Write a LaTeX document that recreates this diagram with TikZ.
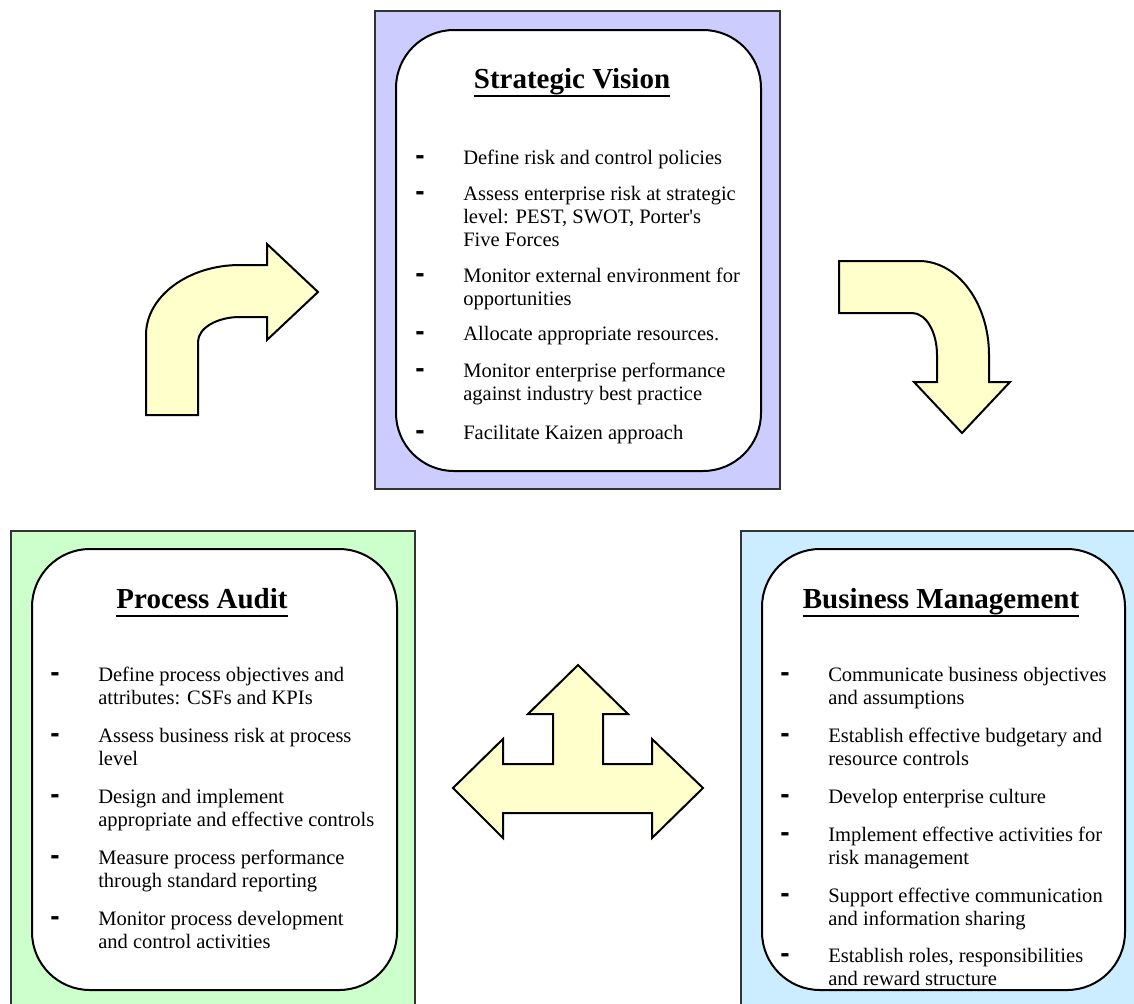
\documentclass[tikz,border=0pt]{standalone}
\usepackage{fontspec}
\setmainfont{Liberation Serif}[Ligatures=TeXOff]
\newfontfamily\svdashfamily{Liberation Sans}
\usetikzlibrary{calc}

\definecolor{visionfill}{RGB}{204,204,255}
\definecolor{auditfill}{RGB}{204,255,204}
\definecolor{mgmtfill}{RGB}{204,236,255}
\definecolor{arrowfill}{RGB}{255,255,204}

\newcommand\svbodyfont{\fontsize{15.4pt}{17.25pt}\selectfont}
\newcommand\svheadfont{\fontsize{21.75pt}{26pt}\selectfont\bfseries}
\newcommand\svdashfont{\svdashfamily\bfseries\fontsize{21pt}{21pt}\selectfont}

\tikzset{
  outerbox/.style={draw=black!80, line width=1.1pt},
  innerbox/.style={draw=black, fill=white, line width=1.5pt, rounded corners=43.5pt},
  blockarrow/.style={draw=black, fill=arrowfill, line width=1.5pt, line join=miter},
  heading/.style={font=\svheadfont, anchor=base, inner sep=0pt},
  itemtext/.style={font=\svbodyfont, anchor=north west, align=left, inner sep=0pt},
  dashmark/.style={font=\svdashfont, anchor=base west, inner sep=0pt},
  uline/.style={line width=2.2pt}
}

% one list entry: dash marker plus its text, first baseline at #3
\newcommand\bullitem[4]{%
  \node[dashmark] (#1-dash) at ({#2-48},#3) {-};
  \node[itemtext] (#1) at (#2,{#3-16.1}) {\strut #4};}

% title with a heavy underline
\newcommand\boxtitle[3]{%
  \node[heading] (#1) at (#2) {#3};
  \draw[uline] ($(#1.base west)+(0,8)$) -- ($(#1.base east)+(0,8)$);}

\begin{document}
\begin{tikzpicture}[x=0.75pt, y=-0.75pt]
\useasboundingbox (0,0) rectangle (1134,1003);

% ---------- Strategic Vision ----------
\draw[outerbox, fill=visionfill] (375,11) rectangle (780,489);
\draw[innerbox] (396,30) rectangle (761,471);
\boxtitle{svT}{572,88}{Strategic Vision}
\bullitem{sv1}{463}{164}{Define risk and control policies}
\bullitem{sv2}{463}{200}{Assess enterprise risk at strategic\\level: PEST, SWOT, Porter's\\Five Forces}
\bullitem{sv3}{463}{282}{Monitor external environment for\\opportunities}
\bullitem{sv4}{463}{340}{Allocate appropriate resources.}
\bullitem{sv5}{463}{377}{Monitor enterprise performance\\against industry best practice}
\bullitem{sv6}{463}{439}{Facilitate Kaizen approach}

% ---------- Process Audit ----------
\draw[outerbox, fill=auditfill] (11,531) rectangle (415,1012);
\draw[innerbox] (32,549) rectangle (397,990);
\boxtitle{paT}{202,608}{Process Audit}
\bullitem{pa1}{98}{681}{Define process objectives and\\attributes: CSFs and KPIs}
\bullitem{pa2}{98}{742}{Assess business risk at process\\level}
\bullitem{pa3}{98}{803}{Design and implement\\appropriate and effective controls}
\bullitem{pa4}{98}{864}{Measure process performance\\through standard reporting}
\bullitem{pa5}{98}{925}{Monitor process development\\and control activities}

% ---------- Business Management ----------
\draw[outerbox, fill=mgmtfill] (741,531) rectangle (1146,1012);
\draw[innerbox] (762,549) rectangle (1125,990);
\boxtitle{bmT}{941,608}{Business Management}
\bullitem{bm1}{828}{681}{Communicate business objectives\\and assumptions}
\bullitem{bm2}{828}{742}{Establish effective budgetary and\\resource controls}
\bullitem{bm3}{828}{803}{Develop enterprise culture}
\bullitem{bm4}{828}{841}{Implement effective activities for\\risk management}
\bullitem{bm5}{828}{902}{Support effective communication\\and information sharing}
\bullitem{bm6}{828}{962}{Establish roles, responsibilities\\and reward structure}

% ---------- bent arrow, up then right ----------
\draw[blockarrow] (146,415) -- (146,335)
  .. controls (146,296.5) and (188,265) .. (240,265)
  -- (267,265) -- (267,244) -- (318,292) -- (267,340) -- (267,317) -- (240,317)
  .. controls (217,317) and (198,328) .. (198,342)
  -- (198,415) -- cycle;

% ---------- bent arrow, right then down ----------
\draw[blockarrow] (839,261) -- (919,261)
  .. controls (957.5,261) and (989,303) .. (989,355)
  -- (989,382) -- (1010,382) -- (962,433) -- (914,382) -- (937,382) -- (937,355)
  .. controls (937,332) and (926,313) .. (912,313)
  -- (839,313) -- cycle;

% ---------- three-way arrow ----------
\draw[blockarrow] (578,665) -- (628,714) -- (603,714) -- (603,764) -- (652,764)
  -- (652,739) -- (703,788) -- (652,838) -- (652,813) -- (503,813) -- (503,838)
  -- (453,788) -- (503,739) -- (503,764) -- (553,764) -- (553,714) -- (528,714) -- cycle;

\end{tikzpicture}
\end{document}
